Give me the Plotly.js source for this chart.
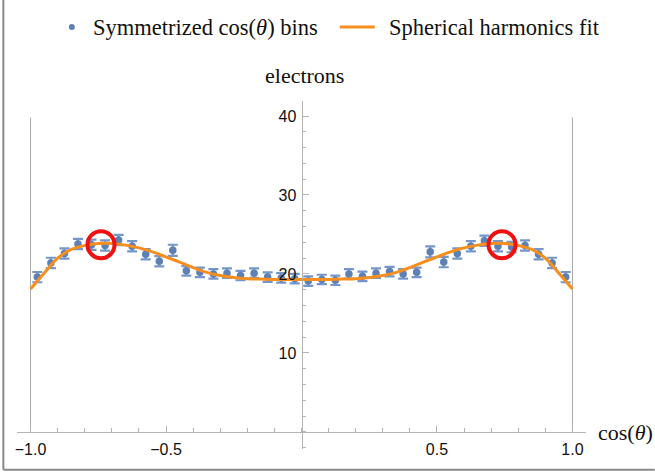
<!DOCTYPE html>
<html>
<head>
<meta charset="utf-8">
<script src="https://cdn.plot.ly/plotly-3.0.1.min.js"></script>
<style>html,body{margin:0;padding:0;background:#fff;}#chart{width:655px;height:474px;}</style>
</head>
<body>
<div id="chart"></div>
<script>
// Bin centers (cos θ), 40 symmetric bins of width 0.05
const binCenters = [-0.975,-0.925,-0.875,-0.825,-0.775,-0.725,-0.675,-0.625,-0.575,-0.525,
  -0.475,-0.425,-0.375,-0.325,-0.275,-0.225,-0.175,-0.125,-0.075,-0.025,
  0.025,0.075,0.125,0.175,0.225,0.275,0.325,0.375,0.425,0.475,
  0.525,0.575,0.625,0.675,0.725,0.775,0.825,0.875,0.925,0.975];
// Electrons per bin
const binCounts = [19.6,21.4,22.6,23.8,23.7,23.6,24.3,23.5,22.5,21.6,
  23.0,20.4,20.2,20.0,20.1,19.8,20.1,19.6,19.5,19.4,
  19.1,19.3,19.2,20.0,19.7,20.1,20.3,20.0,20.2,22.8,
  21.5,22.6,23.5,24.2,23.5,23.4,23.6,22.5,21.4,19.6];
const binErrors = [0.65,0.65,0.65,0.65,0.65,0.65,0.65,0.65,0.65,0.65,
  0.7,0.6,0.6,0.6,0.6,0.6,0.6,0.6,0.6,0.6,
  0.6,0.6,0.6,0.6,0.6,0.6,0.6,0.6,0.6,0.7,
  0.65,0.65,0.65,0.65,0.65,0.65,0.65,0.65,0.65,0.65];
// Spherical harmonics fit curve
const fitX = [-1,-0.95,-0.9,-0.85,-0.8,-0.75,-0.7,-0.65,-0.6,-0.55,-0.5,-0.45,-0.4,-0.35,-0.3,-0.25,-0.2,-0.15,-0.1,-0.05,0,
  0.05,0.1,0.15,0.2,0.25,0.3,0.35,0.4,0.45,0.5,0.55,0.6,0.65,0.7,0.75,0.8,0.85,0.9,0.95,1];
const fitY = [18.1,20.1,22.0,23.1,23.6,23.85,23.85,23.65,23.3,22.8,22.15,21.5,20.8,20.2,19.8,19.55,19.4,19.35,19.3,19.3,19.3,
  19.3,19.3,19.35,19.4,19.55,19.8,20.2,20.8,21.5,22.15,22.8,23.3,23.65,23.85,23.85,23.6,23.1,22.0,20.1,18.1];
// Highlighted maxima
const peakX = [-0.74, 0.74];
const peakY = [23.7, 23.7];
// Tick labels
const xTickVals = [-1, -0.5, 0.5, 1];
const xTickText = ['\u22121.0', '\u22120.5', '0.5', '1.0'];
const yTickVals = [10, 20, 30, 40];
const yTickText = ['10', '20', '30', '40'];
// Legend labels
const legendLabels = ['Symmetrized cos(<i>θ</i>) bins', 'Spherical harmonics fit'];

const axisGray = '#b4b4b4';
const dotBlue = '#5e81b5';
const fitOrange = '#f78f1e';
const serif = 'Liberation Serif, Times New Roman, serif';
const L = 17.15, W = 569.1, T = 101, H = 348.3;
const px = v => (v - L) / W;
const py = v => (T + H - v) / H;

const traces = [
  {
    x: binCenters, y: binCounts, type: 'scatter', mode: 'markers',
    name: legendLabels[0], showlegend: false,
    marker: {color: dotBlue, size: 7.5},
    error_y: {type: 'data', array: binErrors, visible: true, color: '#7596cb', thickness: 2.2, width: 5}
  },
  {
    x: fitX, y: fitY, type: 'scatter', mode: 'lines',
    name: legendLabels[1], showlegend: false,
    line: {color: fitOrange, width: 3, shape: 'spline'}
  },
  {
    x: peakX, y: peakY, type: 'scatter', mode: 'markers', showlegend: false,
    marker: {symbol: 'circle-open', size: 27, color: '#f01010', line: {width: 4, color: '#f01010'}}
  }
];

const layout = {
  width: 655, height: 474,
  margin: {l: L, r: 655 - L - W, t: T, b: 474 - T - H, pad: 0},
  paper_bgcolor: '#fff', plot_bgcolor: '#fff',
  font: {family: 'Liberation Sans, Arial, sans-serif', size: 16, color: '#000'},
  showlegend: false,
  xaxis: {
    range: [-1.05, 1.05], anchor: 'free', position: py(432.2),
    showgrid: false, zeroline: false, showline: true, linecolor: axisGray, linewidth: 1,
    tickmode: 'array', tickvals: xTickVals, ticktext: xTickText,
    ticks: 'inside', ticklen: 6, tickcolor: axisGray, tickwidth: 1,
    tickfont: {size: 16, color: '#111'}, ticklabelstandoff: 3,
    minor: {tickmode: 'linear', tick0: 0, dtick: 0.1, ticks: 'inside', ticklen: 3.5, tickcolor: axisGray, showgrid: false}
  },
  yaxis: {
    range: [-2.165, 41.9], anchor: 'free', position: px(301.7),
    showgrid: false, zeroline: false, showline: true, linecolor: axisGray, linewidth: 1,
    tickmode: 'array', tickvals: yTickVals, ticktext: yTickText,
    ticks: 'inside', ticklen: 6, tickcolor: axisGray, tickwidth: 1,
    tickfont: {size: 16, color: '#111'}, ticklabelstandoff: 2,
    minor: {tickmode: 'linear', tick0: 0, dtick: 2, ticks: 'inside', ticklen: 3.5, tickcolor: axisGray, showgrid: false}
  },
  shapes: [
    {type: 'line', xref: 'x', yref: 'y', x0: -1, x1: -1, y0: 0, y1: 39.8, line: {color: '#a8a8a8', width: 1}, layer: 'below'},
    {type: 'line', xref: 'x', yref: 'y', x0: 1, x1: 1, y0: 0, y1: 39.8, line: {color: '#a8a8a8', width: 1}, layer: 'below'},
    {type: 'line', xref: 'paper', yref: 'paper', x0: px(3.5), x1: px(3.5), y0: py(0), y1: py(470), line: {color: '#8a8a8a', width: 2}},
    {type: 'line', xref: 'paper', yref: 'paper', x0: px(3.5), x1: px(655), y0: py(470), y1: py(470), line: {color: '#8a8a8a', width: 2}},
    // legend symbols
    {type: 'circle', xref: 'paper', yref: 'paper', x0: px(69), x1: px(75), y0: py(24), y1: py(30), fillcolor: dotBlue, line: {width: 0}},
    {type: 'line', xref: 'paper', yref: 'paper', x0: px(340), x1: px(375), y0: py(27), y1: py(27), line: {color: fitOrange, width: 3}}
  ],
  annotations: [
    {text: legendLabels[0], xref: 'paper', yref: 'paper', x: px(91), y: py(27), xanchor: 'left', yanchor: 'middle',
     showarrow: false, font: {family: serif, size: 22.5, color: '#111'}},
    {text: legendLabels[1], xref: 'paper', yref: 'paper', x: px(387), y: py(27), xanchor: 'left', yanchor: 'middle',
     showarrow: false, font: {family: serif, size: 22.5, color: '#111'}},
    {text: 'electrons', xref: 'paper', yref: 'paper', x: px(305), y: py(75), xanchor: 'center', yanchor: 'middle',
     showarrow: false, font: {family: serif, size: 22, color: '#111'}},
    {text: 'cos(<i>θ</i>)', xref: 'paper', yref: 'paper', x: px(596), y: py(433), xanchor: 'left', yanchor: 'middle',
     showarrow: false, font: {family: serif, size: 22, color: '#111'}}
  ]
};

Plotly.newPlot('chart', traces, layout, {displayModeBar: false, staticPlot: true});
</script>
</body>
</html>
